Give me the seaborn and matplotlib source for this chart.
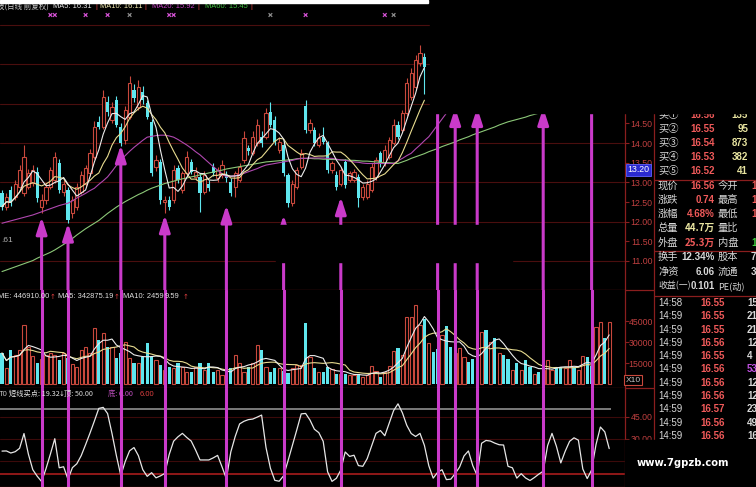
import numpy as np
import pandas as pd
import matplotlib
matplotlib.use("Agg")
import matplotlib.pyplot as plt
from matplotlib.patches import Rectangle
import seaborn as sns

sns.set_theme(style="dark", rc={"axes.facecolor": "black", "figure.facecolor": "black"})
NUM = ["Liberation Sans", "DejaVu Sans", "Noto Sans CJK SC"]
CN = ["Noto Sans CJK SC", "DejaVu Sans"]
plt.rcParams["font.family"] = NUM
plt.rcParams["axes.unicode_minus"] = False

W, H = 756, 487

# ---- daily candles (visible part) ----
opens = [12.72, 12.38, 12.80, 12.63, 12.89, 12.72, 12.89, 12.98, 13.27, 12.38,
         12.55, 12.89, 13.06, 13.48, 12.76, 12.80, 12.21, 12.38, 12.76, 12.97,
         13.23, 13.65, 14.54, 14.42, 15.05, 14.59, 15.10, 14.42, 14.08, 14.67,
         15.35, 14.92, 15.30, 15.01, 14.54, 13.40, 13.53, 12.50, 12.55, 12.55,
         13.36, 12.80, 13.23, 13.53, 13.14, 13.14, 12.76, 12.97, 13.40, 13.10,
         13.19, 13.19, 13.02, 12.89, 13.06, 13.57, 13.87, 13.74, 13.99, 14.16,
         14.16, 14.80, 14.59, 13.82, 13.95, 13.19, 12.47, 12.89, 13.40, 14.95,
         14.33, 14.33, 13.95, 14.16, 13.99, 13.31, 13.19, 12.97, 13.53, 13.06,
         13.06, 13.14, 12.63, 12.63, 12.80, 13.14, 13.74, 13.48, 13.65, 13.99,
         14.46, 14.33, 14.76, 15.18, 15.43, 16.03, 16.20]
closes = [12.38, 12.63, 12.47, 12.97, 13.31, 13.65, 13.23, 13.31, 12.59, 12.55,
          12.89, 13.31, 13.65, 12.80, 12.97, 12.04, 12.55, 12.89, 13.19, 13.36,
          13.74, 14.42, 14.42, 15.18, 14.80, 14.92, 14.46, 13.99, 14.84, 15.52,
          15.14, 15.43, 15.10, 14.67, 13.23, 13.57, 12.55, 12.55, 12.38, 13.31,
          13.06, 13.23, 13.65, 13.27, 13.27, 12.72, 13.19, 12.85, 13.23, 13.31,
          13.44, 13.10, 12.72, 13.23, 13.40, 14.12, 13.80, 14.16, 14.46, 13.99,
          14.76, 14.46, 14.03, 14.03, 13.23, 12.47, 12.97, 13.31, 13.74, 14.33,
          14.50, 13.99, 14.12, 14.03, 13.31, 13.48, 12.89, 13.31, 12.93, 13.23,
          13.27, 12.59, 12.89, 12.97, 13.40, 13.57, 13.48, 13.82, 14.08, 14.46,
          14.16, 14.76, 15.52, 15.77, 16.11, 16.28, 15.94]
highs = [12.80, 12.72, 12.90, 13.05, 13.45, 13.95, 13.35, 13.45, 13.40, 12.70,
         12.98, 13.40, 13.78, 13.60, 13.05, 12.88, 12.65, 12.98, 13.30, 13.45,
         13.85, 14.55, 14.70, 15.35, 15.20, 15.05, 15.20, 14.50, 14.95, 15.70,
         15.50, 15.60, 15.45, 15.10, 14.60, 13.70, 13.60, 12.65, 12.65, 13.45,
         13.45, 13.30, 13.80, 13.60, 13.40, 13.25, 13.30, 13.05, 13.50, 13.40,
         13.58, 13.30, 13.10, 13.30, 13.50, 14.30, 13.95, 14.30, 14.60, 14.30,
         14.90, 15.05, 14.70, 14.15, 14.05, 13.25, 13.05, 13.40, 13.85, 15.10,
         14.60, 14.40, 14.25, 14.40, 14.05, 13.55, 13.30, 13.40, 13.60, 13.30,
         13.35, 13.20, 12.95, 13.05, 13.50, 13.65, 13.80, 13.95, 14.15, 14.60,
         14.55, 14.85, 15.65, 15.90, 16.25, 16.49, 16.30]
lows = [12.30, 12.30, 12.40, 12.55, 12.85, 12.65, 12.82, 12.90, 12.50, 12.22,
        12.45, 12.82, 12.98, 12.72, 12.65, 11.96, 12.10, 12.30, 12.70, 12.90,
        13.15, 13.60, 14.35, 14.35, 14.70, 14.50, 14.40, 13.92, 13.98, 14.60,
        15.05, 14.85, 15.00, 14.60, 13.15, 13.30, 12.45, 12.22, 12.30, 12.48,
        12.98, 12.72, 13.15, 13.20, 13.05, 12.25, 12.70, 12.78, 13.15, 13.02,
        13.10, 13.00, 12.65, 12.62, 13.00, 13.50, 13.70, 13.70, 13.92, 13.90,
        14.10, 14.40, 13.95, 13.75, 13.15, 12.37, 12.40, 12.82, 13.35, 14.25,
        14.25, 13.92, 13.90, 13.98, 13.25, 13.25, 12.80, 12.90, 12.85, 13.00,
        13.00, 12.37, 12.55, 12.58, 12.75, 13.05, 13.40, 13.42, 13.60, 13.95,
        14.10, 14.28, 14.70, 15.10, 15.35, 15.95, 15.25]

# longer moving averages (they need hidden history)
ma20 = [11.96, 11.99, 12.02, 12.05, 12.08, 12.11, 12.14, 12.17, 12.21, 12.25,
        12.29, 12.33, 12.37, 12.41, 12.44, 12.47, 12.53, 12.60, 12.66, 12.72,
        12.79, 12.85, 12.95, 13.04, 13.14, 13.28, 13.43, 13.57, 13.68, 13.79,
        13.89, 13.98, 14.07, 14.15, 14.17, 14.19, 14.20, 14.20, 14.18, 14.15,
        14.09, 14.02, 13.95, 13.87, 13.78, 13.70, 13.60, 13.50, 13.40, 13.31,
        13.22, 13.14, 13.15, 13.17, 13.19, 13.23, 13.27, 13.31, 13.35, 13.40,
        13.44, 13.46, 13.48, 13.50, 13.52, 13.54, 13.56, 13.59, 13.61, 13.61,
        13.62, 13.62, 13.62, 13.62, 13.61, 13.61, 13.59, 13.57, 13.56, 13.54,
        13.52, 13.51, 13.49, 13.48, 13.48, 13.48, 13.48, 13.48, 13.48, 13.48,
        13.55, 13.61, 13.68, 13.74, 13.85, 13.95, 14.06, 14.16, 14.31, 14.46,
        14.61, 14.76]
ma60 = [10.73, 10.77, 10.81, 10.85, 10.89, 10.93, 10.97, 11.01, 11.07, 11.12,
        11.17, 11.22, 11.28, 11.35, 11.42, 11.49, 11.57, 11.66, 11.74, 11.82,
        11.89, 11.96, 12.03, 12.12, 12.21, 12.29, 12.37, 12.44, 12.51, 12.57,
        12.63, 12.69, 12.74, 12.80, 12.85, 12.89, 12.93, 12.97, 13.00, 13.03,
        13.06, 13.09, 13.11, 13.14, 13.16, 13.19, 13.21, 13.24, 13.26, 13.29,
        13.31, 13.34, 13.36, 13.38, 13.40, 13.42, 13.44, 13.46, 13.48, 13.50,
        13.52, 13.53, 13.54, 13.55, 13.56, 13.57, 13.58, 13.60, 13.61, 13.61,
        13.61, 13.60, 13.60, 13.59, 13.59, 13.58, 13.58, 13.57, 13.57, 13.56,
        13.56, 13.55, 13.54, 13.54, 13.53, 13.52, 13.51, 13.50, 13.50, 13.49,
        13.48, 13.52, 13.56, 13.61, 13.65, 13.69, 13.73, 13.78, 13.82, 13.86,
        13.91, 13.95, 13.99, 14.03, 14.08, 14.12, 14.16, 14.21, 14.25, 14.29,
        14.33, 14.37, 14.41, 14.46, 14.50, 14.54, 14.57, 14.60, 14.63, 14.66,
        14.70, 14.73, 14.76]

# ---- volume (axis units, x10) ----
volume = [22100, 11400, 24300, 20700, 24300, 42100, 26400, 20000, 15000, 18000,
          20700, 22100, 20700, 17100, 22100, 18600, 14000, 12100, 24300, 26400,
          22100, 40000, 31400, 36400, 26400, 26400, 18600, 22000, 30000, 18600,
          15000, 15000, 19300, 29300, 19300, 17100, 13600, 10000, 12100, 11400,
          15000, 12100, 8600, 8600, 12100, 15000, 10000, 15000, 8600, 10000,
          6400, 6400, 11400, 20700, 15000, 8600, 12100, 15000, 27900, 24300,
          12100, 8600, 11400, 11400, 9000, 7900, 11400, 13600, 13600, 43300,
          19500, 11400, 8800, 8800, 11900, 10700, 7100, 7000, 7100, 6400,
          6400, 7100, 5000, 6400, 12900, 9500, 5200, 8800, 12900, 23800,
          25500, 20700, 48100, 48100, 56400, 42100, 46200, 29000, 23100, 24800,
          35000, 41400, 26700, 22000, 25500, 19500, 15900, 17600, 18000, 37400,
          38600, 30200, 32600, 22000, 20700, 17600, 10000, 14800, 10000, 17100,
          11900, 7000, 8800, 10000, 17100, 10000, 11200, 11900, 11200, 17100,
          11900, 10000, 20000, 19000, 12900, 40900, 44500, 32600, 44500]
vol_up = [0, 1, 0, 1, 1, 1, 1, 1, 0, 1,
          1, 1, 1, 0, 1, 0, 1, 1, 1, 1,
          1, 1, 0, 1, 0, 1, 0, 0, 1, 1,
          0, 1, 0, 0, 0, 1, 0, 1, 0, 1,
          0, 1, 1, 0, 1, 0, 1, 0, 0, 1,
          1, 0, 0, 1, 1, 1, 0, 1, 1, 0,
          1, 0, 0, 1, 0, 0, 1, 1, 1, 0,
          1, 0, 1, 0, 0, 1, 0, 1, 0, 1,
          1, 0, 1, 1, 1, 1, 0, 1, 1, 1,
          0, 1, 1, 1, 1, 1, 0, 1, 0, 0,
          1, 0, 0, 1, 1, 1, 0, 0, 0, 1,
          0, 1, 0, 1, 0, 0, 1, 0, 1, 0,
          0, 1, 0, 1, 1, 1, 0, 0, 1, 1,
          0, 1, 1, 0, 0, 1, 1, 0, 1]

# ---- short-term buy point oscillator ----
osc = [21.6, 21.7, 20.3, 21.2, 23.5, 33.5, 19.5, 9.0, 4.6, 1.0,
       9.7, 19.6, 30.0, 10.3, 11.0, 2.5, 10.4, 13.0, 18.5, 26.0,
       33.8, 42.0, 50.5, 51.2, 47.0, 33.5, 18.5, 5.0, 14.5, 21.8,
       24.0, 18.5, 9.0, 4.5, 7.0, 3.5, 4.8, 6.5, 19.3, 28.3,
       31.3, 33.6, 30.8, 28.4, 22.3, 15.6, 15.6, 15.6, 17.0, 18.7,
       11.0, 2.8, 21.0, 31.5, 40.0, 41.8, 42.9, 43.3, 44.6, 46.0,
       24.0, 10.0, 1.8, 1.2, 4.9, 15.0, 25.4, 36.0, 46.8, 47.1,
       42.6, 36.4, 34.1, 28.2, 7.6, 1.1, 3.2, 8.8, 21.0, 18.0,
       18.8, 11.8, 11.3, 16.5, 25.0, 33.6, 35.5, 32.0, 40.6, 49.0,
       53.6, 47.5, 39.0, 33.5, 31.5, 33.6, 25.5, 11.7, 3.3, 7.2,
       9.0, 2.3, 2.6, 6.4, 10.8, 18.3, 21.7, 11.7, 5.0, 26.9,
       28.8, 28.4, 27.0, 25.9, 25.7, 11.3, 10.3, 3.3, 6.3, 3.4,
       1.7, 3.7, 6.0, 8.0, 25.3, 33.6, 24.9, 13.6, 21.5, 28.2,
       30.6, 29.0, 9.5, 3.0, 8.8, 26.0, 37.9, 34.6, 23.3]
osc_top, osc_bottom = 50.0, 6.0

# buy signals: bar index and arrow tip price
signal_idx = [9, 15, 27, 37, 51, 64, 77, 99, 103, 108, 123, 134]
signal_tip = [12.12, 11.96, 13.95, 12.17, 12.42, 12.17, 12.63, 15.3, 14.9, 14.9, 14.9, 15.3]
# small markers in the top strip
mark_idx = [11, 12, 19, 24, 29, 38, 39, 61, 69, 87, 89]
mark_hot = [1, 1, 1, 1, 0, 1, 1, 0, 1, 1, 0]

# ---- quote panel ----
book_labels = ["买①", "买②", "买③", "买④", "买⑤"]
book_prices = ["16.56", "16.55", "16.54", "16.53", "16.52"]
book_vols = ["135", "95", "873", "382", "41"]
quote_left = ["现价", "涨跌", "涨幅", "总量", "外盘", "换手", "净资", "收益(一)"]
quote_vals = ["16.56", "0.74", "4.68%", "44.7万", "25.3万", "12.34%", "6.06", "0.101"]
quote_kind = ["r", "r", "r", "y", "r", "w", "w", "w"]
quote_right = ["今开", "最高", "最低", "量比", "内盘", "股本", "流通", "PE(动)"]
quote_cut = ["1", "1", "1", "", "15", "7.", "3.", ""]
quote_cut_kind = ["r", "r", "r", "w", "g", "w", "w", "w"]
tick_times = ["14:58"] + ["14:59"] * 10
tick_prices = ["16.55", "16.55", "16.55", "16.56", "16.55", "16.56",
               "16.56", "16.56", "16.57", "16.56", "16.56"]
tick_vols = ["15", "21", "21", "12", "4", "53", "12", "12", "23", "49", "16"]

# colours
RED = "#c8483c"
CYAN = "#5fe6ee"
GRID = "#4a0e0e"
AXIS = "#8a1e1e"
TICK = "#c04040"
MAG = "#c93ac9"
LABEL = "#d8d8d8"
PRICE_RED = "#f05a5a"
YEL = "#e8e4a0"
KIND = {"r": PRICE_RED, "y": YEL, "w": LABEL, "g": "#40d040"}

# pixel layout
STEP, X0 = 4.4, 2.0           # px per bar, px of first bar
P_TOP, PX_PER_YUAN = 17.64, 39.3
XLIM = (-X0 / STEP, (625 - X0) / STEP)


def px_rect(x0, y0, x1, y1):
    return [x0 / W, 1 - y1 / H, (x1 - x0) / W, (y1 - y0) / H]


fig = plt.figure(figsize=(W / 100, H / 100), dpi=100)
fig.patch.set_facecolor("black")
ax_p = fig.add_axes(px_rect(0, 0, 625, 290))
ax_v = fig.add_axes(px_rect(0, 290, 625, 388))
ax_o = fig.add_axes(px_rect(0, 388, 625, 487))

for ax in (ax_p, ax_v, ax_o):
    ax.set_facecolor("black")
    ax.grid(False)
    for side in ("left", "top"):
        ax.spines[side].set_visible(False)
    for side in ("right", "bottom"):
        ax.spines[side].set_color(AXIS)
        ax.spines[side].set_linewidth(0.9)
    ax.yaxis.tick_right()
    ax.tick_params(axis="y", which="both", right=True, left=False, length=3, width=0.8,
                   color=AXIS, labelcolor=TICK, labelsize=6.3, pad=17)
    ax.tick_params(axis="x", bottom=False, labelbottom=False)

# ---- price panel ----
n = len(opens)
xi = np.arange(n)
o, c, hi, lo = map(np.array, (opens, closes, highs, lows))
up = c >= o
ax_p.vlines(xi, lo, hi, colors=[RED if u else CYAN for u in up], lw=0.8, zorder=2)
body_lo = np.minimum(o, c)
body_h = np.maximum(np.abs(c - o), 0.02)
ax_p.bar(xi[up], body_h[up], bottom=body_lo[up], width=0.75, facecolor="black",
         edgecolor=RED, linewidth=0.8, zorder=3)
ax_p.bar(xi[~up], body_h[~up], bottom=body_lo[~up], width=0.75, color=CYAN,
         linewidth=0, zorder=3)

close_s = pd.Series(closes)
ma5 = close_s.rolling(5, min_periods=1).mean()
ma10 = close_s.rolling(10, min_periods=1).mean()
for vals, col in ((ma60, "#8cc878"), (ma20, "#b048b0"), (list(ma10), "#e8dc90"), (list(ma5), "#ececec")):
    sns.lineplot(x=np.arange(len(vals)), y=vals, ax=ax_p, color=col, linewidth=0.8,
                 legend=False, zorder=4)

for g in range(11, 18):
    ax_p.axhline(g, color=GRID, lw=0.8, zorder=0)

p_bottom = P_TOP - 290 / PX_PER_YUAN
for s, tip in zip(signal_idx, signal_tip):
    ax_p.annotate("", xy=(s, tip), xytext=(s, p_bottom),
                  arrowprops=dict(arrowstyle="-|>,head_length=1.0,head_width=0.32",
                                  color=MAG, lw=2.2, shrinkA=0, shrinkB=0,
                                  mutation_scale=10), zorder=5)
mark_y = P_TOP - 15 / PX_PER_YUAN
ax_p.scatter(mark_idx, [mark_y] * len(mark_idx), marker="x", s=7, linewidths=0.9,
             c=["#d050d0" if h else "#8a8a8a" for h in mark_hot], zorder=5)

ticks_p = np.arange(11.0, 14.51, 0.5)
ax_p.set_yticks(ticks_p, labels=[f"{t:.2f}" for t in ticks_p])
ax_p.set_ylim(p_bottom, P_TOP)

# ---- volume panel ----
nv = len(volume)
xv = np.arange(nv)
vol = np.array(volume, dtype=float)
vu = np.array(vol_up, dtype=bool)
ax_v.bar(xv[vu], vol[vu], width=0.72, facecolor="black", edgecolor=RED, linewidth=0.8, zorder=2)
ax_v.bar(xv[~vu], vol[~vu], width=0.72, color=CYAN, linewidth=0, zorder=2)
vol_s = pd.Series(volume, dtype=float)
sns.lineplot(x=xv, y=vol_s.rolling(10, min_periods=1).mean(), ax=ax_v, color="#e8dc90",
             linewidth=0.8, legend=False, zorder=3)
sns.lineplot(x=xv, y=vol_s.rolling(5, min_periods=1).mean(), ax=ax_v, color="#ececec",
             linewidth=0.8, legend=False, zorder=3)
for s in signal_idx:
    ax_v.axvline(s, color=MAG, lw=2.2, zorder=5)
ax_v.set_yticks([15000, 30000, 45000], labels=["15000", "30000", "45000"])
ax_v.set_ylim(-(388 - 384) * 714.3, (384 - 290) * 714.3)

# ---- oscillator panel ----
xo = np.arange(len(osc))
for g in (15, 30, 45):
    ax_o.axhline(g, color="#3c0a0a", lw=0.8, zorder=0)
ax_o.hlines(osc_top, XLIM[0], len(osc) - 0.5, color="#9a9a9a", lw=1.1, zorder=1)
ax_o.axhline(osc_bottom, color="#a81c1c", lw=1.2, zorder=1)
sns.lineplot(x=xo, y=osc, ax=ax_o, color="#e6e6e6", linewidth=0.9, legend=False, zorder=3)
for s in signal_idx:
    ax_o.axvline(s, color=MAG, lw=2.2, zorder=5)
ax_o.set_yticks([30, 45], labels=["30.00", "45.00"])
ax_o.set_ylim((483 - 487) / 1.477, (483 - 388) / 1.477)

for ax in (ax_p, ax_v, ax_o):
    ax.set_xlim(*XLIM)
    ax.set_xlabel("")
    ax.set_ylabel("")
    for lab in ax.get_yticklabels():
        lab.set_horizontalalignment("right")

# ---- overlay in pixel coordinates: covers, headers, quote panel ----
ov = fig.add_axes([0, 0, 1, 1])
ov.set_xlim(0, W)
ov.set_ylim(H, 0)
ov.axis("off")
ov.patch.set_alpha(0)
ov.set_zorder(10)

ov.add_patch(Rectangle((430, 0), W - 430, 113, color="black", zorder=4))
ov.add_patch(Rectangle((276, 224.5), 512 - 276, 37, color="black", zorder=4))
ov.add_patch(Rectangle((625, 440), W - 625, H - 440, color="black", zorder=4))
ov.add_patch(Rectangle((0, 0), 428, 2.5, color="white", zorder=4))

ov.vlines(654, 113, 440, color=AXIS, lw=0.9)
ov.hlines([180, 251, 296], 654, W, color=AXIS, lw=0.9)
ov.hlines([290, 388], 625, 654, color=AXIS, lw=0.9)


def put(x, y, s, color, ha="left", size=7.0, fam=NUM, weight="normal", z=3):
    ov.text(x, y, s, color=color, ha=ha, va="center", fontsize=size, family=fam,
            fontweight=weight, zorder=z)


# main header
put(-3, 6.5, "技(日线 前复权)", "#c8c8c8", size=5.4, fam=CN)
put(53, 6.5, "MA5: 16.31", "#e6e6e6", size=5.4)
put(100, 6.5, "MA10: 16.11", "#f0e8b0", size=5.4)
put(152, 6.5, "MA20: 15.92", "#c040c0", size=5.4)
put(205, 6.5, "MA60: 15.45", "#40c040", size=5.4)
for xs in (95, 144, 197, 250):
    put(xs, 6.5, "|", "#e04040", size=5.4)
put(1, 240, ".61", "#b0b0b0", size=6)

# volume header
put(-2, 297, "ME: 446910.00", "#e0e0e0", size=5.4)
put(50, 297, "↑", "#e04040", size=5, fam=["DejaVu Sans"])
put(58, 297, "MA5: 342875.19", "#e0e0e0", size=5.4)
put(114, 297, "↑", "#e04040", size=5, fam=["DejaVu Sans"])
put(123, 297, "MA10: 2459", "#e0e0e0", size=5.4)
put(165, 297, "9.59", "#e0e0e0", size=5.4)
put(183, 297, "↑", "#e04040", size=5, fam=["DejaVu Sans"])

# oscillator header
put(-1, 394, "T0", "#c8c8c8", size=5.4)
put(9, 394, "短线买点: 19.32", "#e6e6e6", size=5.2, fam=CN)
put(59, 394, "↓", "#e6e6e6", size=5, fam=["DejaVu Sans"])
put(64, 394, "顶: 50.00", "#d8d8d8", size=5.2, fam=CN)
put(108, 394, "底: 6.00", "#c050c0", size=5.2, fam=CN)
put(140, 394, "6.00", "#e04040", size=5.4)

# axis decorations
ov.text(638.5, 170, "13.20", color="white", ha="center", va="center", fontsize=6.3,
        bbox=dict(boxstyle="square,pad=0.15", facecolor="#2a2ad0", edgecolor="#6060ff", lw=0.6))
ov.text(633, 380, "X10", color="#c8c8c8", ha="center", va="center", fontsize=6,
        bbox=dict(boxstyle="square,pad=0.15", facecolor="black", edgecolor=RED, lw=0.8))

# order book
for k in range(5):
    y = 115 + 14 * k
    put(658, y, book_labels[k], LABEL, size=7.4, fam=CN)
    put(715, y, book_prices[k], PRICE_RED, ha="right", size=7, weight="bold")
    put(748, y, book_vols[k], YEL, ha="right", size=7, weight="bold")

quote_y = [186, 200, 214, 228, 243, 257, 272, 286]
for k, y in enumerate(quote_y):
    put(658, y, quote_left[k], LABEL, size=7.4 if len(quote_left[k]) == 2 else 6.4, fam=CN)
    put(715, y, quote_vals[k], KIND[quote_kind[k]], ha="right", size=7, weight="bold",
        fam=NUM if "万" not in quote_vals[k] else CN)
    put(718, y, quote_right[k], LABEL, size=7.4 if len(quote_right[k]) == 2 else 6.6, fam=CN)
    put(751, y, quote_cut[k], KIND[quote_cut_kind[k]], size=7, weight="bold")

for k in range(len(tick_times)):
    y = 303 + 13.3 * k
    put(658, y, tick_times[k], LABEL, size=7)
    put(725, y, tick_prices[k], PRICE_RED, ha="right", size=7, weight="bold")
    put(747, y, tick_vols[k], "#c050e0" if tick_vols[k] == "53" else LABEL, size=7, weight="bold")

ov.text(683, 463, "www.7gpzb.com", color="white", ha="center", va="center", fontsize=7.2,
        fontweight="bold", family="DejaVu Sans", zorder=5)

fig.savefig("out.png", dpi=100, facecolor="black")
